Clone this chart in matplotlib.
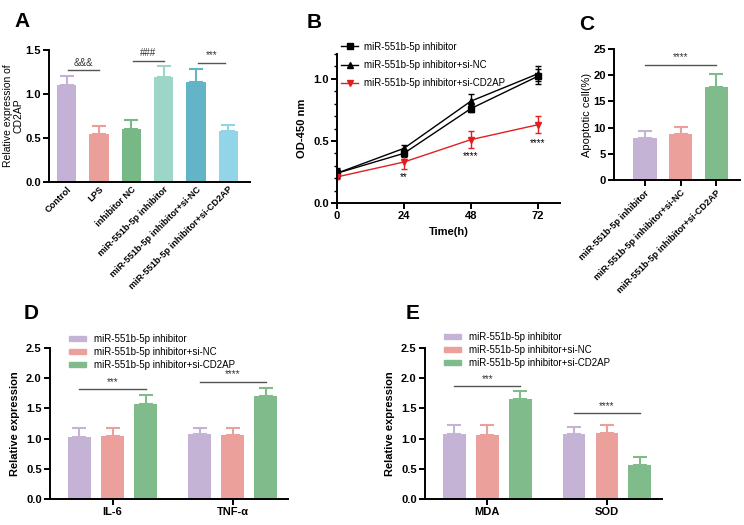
import numpy as np
import matplotlib
matplotlib.use('Agg')
import matplotlib.pyplot as plt
from matplotlib.ticker import MultipleLocator
from matplotlib.patches import Patch
from matplotlib.lines import Line2D

plt.rcParams['font.family'] = ['Liberation Sans', 'DejaVu Sans']
plt.rcParams['axes.linewidth'] = 1.4
plt.rcParams['xtick.major.width'] = 1.4
plt.rcParams['ytick.major.width'] = 1.4
plt.rcParams['xtick.major.size'] = 4
plt.rcParams['ytick.major.size'] = 4

# ---- data ----
a_groups = ['Control', 'LPS', 'inhibitor NC', 'miR-551b-5p inhibitor',
            'miR-551b-5p inhibitor+si-NC', 'miR-551b-5p inhibitor+si-CD2AP']
a_vals = [1.10, 0.55, 0.60, 1.19, 1.14, 0.58]
a_err = [0.11, 0.09, 0.10, 0.13, 0.14, 0.07]
a_colors = ['#c4b1d6', '#eb9f9b', '#76b986', '#9dd6c9', '#63b4c7', '#92d4e8']

b_time = [0, 24, 48, 72]
b_names = ['miR-551b-5p inhibitor', 'miR-551b-5p inhibitor+si-NC', 'miR-551b-5p inhibitor+si-CD2AP']
b_inh = [0.24, 0.40, 0.76, 1.02]
b_inh_err = [0.03, 0.03, 0.03, 0.06]
b_sinc = [0.24, 0.44, 0.82, 1.04]
b_sinc_err = [0.04, 0.03, 0.06, 0.06]
b_sicd = [0.21, 0.33, 0.51, 0.63]
b_sicd_err = [0.02, 0.06, 0.07, 0.07]
b_stars = ['', '**', '****', '****']
b_star_y = [0, 0.21, 0.38, 0.48]

c_groups = b_names
c_vals = [8.0, 8.7, 17.7]
c_err = [1.4, 1.5, 2.5]

grp_colors = ['#c5b3d6', '#eca09b', '#7fbb8b']
d_cats = ['IL-6', 'TNF-α']
d_vals = [[1.02, 1.07], [1.05, 1.06], [1.58, 1.70]]
d_err = [[0.16, 0.11], [0.13, 0.11], [0.14, 0.14]]
e_cats = ['MDA', 'SOD']
e_vals = [[1.08, 1.07], [1.06, 1.10], [1.65, 0.57]]
e_err = [[0.15, 0.12], [0.16, 0.12], [0.14, 0.12]]

W, H = 744, 525
fig = plt.figure(figsize=(W / 100, H / 100), dpi=100)


def px_axes(l, t, r, b):
    return fig.add_axes([l / W, 1 - b / H, (r - l) / W, (b - t) / H])


def style(ax):
    ax.spines['top'].set_visible(False)
    ax.spines['right'].set_visible(False)
    ax.tick_params(labelsize=8, pad=2)
    for lab in ax.get_yticklabels():
        lab.set_fontweight('bold')


def sig(ax, x1, x2, y, txt, dy):
    ax.plot([x1, x2], [y, y], color='#555555', lw=1)
    ax.text((x1 + x2) / 2, y + dy, txt, ha='center', va='bottom', fontsize=7, color='#333333')


def bars(ax, x, vals, errs, colors, width):
    ax.bar(x, vals, width=width, color=colors, zorder=2)
    for xi, v, e, c in zip(x, vals, errs, colors):
        ax.errorbar(xi, v, yerr=[[0], [e]], fmt='none', ecolor=c, elinewidth=1.5,
                    capsize=5, capthick=1.5, zorder=1)


# ---- A ----
ax = px_axes(49, 50, 250, 182)
xa = np.arange(len(a_vals))
bars(ax, xa, a_vals, a_err, a_colors, 0.6)
ax.set_xlim(-0.55, 5.67)
ax.set_ylim(0, 1.5)
ax.set_yticks([0, 0.5, 1.0, 1.5])
ax.set_xticks(xa)
style(ax)
ax.set_xticklabels(a_groups, rotation=45, ha='right', rotation_mode='anchor',
                   fontsize=6.6, fontweight='bold')
ax.tick_params(axis='x', length=0)
ax.set_ylabel('Relative expression of\nCD2AP', fontsize=7.5, labelpad=1, linespacing=1.1)
sig(ax, 0.05, 1.0, 1.27, '&&&', 0.03)
sig(ax, 2.05, 3.0, 1.375, '###', 0.03)
sig(ax, 4.05, 4.9, 1.35, '***', 0.03)

# ---- B ----
ax = px_axes(337, 54, 560, 203)
ax.errorbar(b_time, b_inh, yerr=b_inh_err, color='black', marker='s', ms=4, lw=1,
            capsize=2.5, elinewidth=1)
ax.errorbar(b_time, b_sinc, yerr=b_sinc_err, color='black', marker='^', ms=4, lw=1,
            capsize=2.5, elinewidth=1)
ax.errorbar(b_time, b_sicd, yerr=b_sicd_err, color='#e02020', marker='v', ms=4, lw=1,
            capsize=2.5, elinewidth=1)
for t, s, y in zip(b_time, b_stars, b_star_y):
    if s:
        ax.text(t, y, s, ha='center', va='center', fontsize=7)
ax.set_xlim(0, 80)
ax.set_ylim(0, 1.2)
ax.set_xticks(b_time)
ax.set_yticks([0, 0.5, 1.0])
ax.yaxis.set_minor_locator(MultipleLocator(0.1))
ax.tick_params(axis='y', which='minor', length=2, width=1)
style(ax)
for lab in ax.get_xticklabels():
    lab.set_fontweight('bold')
ax.set_xlabel('Time(h)', fontsize=8, fontweight='bold')
ax.set_ylabel('OD-450 nm', fontsize=8, fontweight='bold')
handles = [Line2D([], [], color='black', marker='s', ms=4, lw=1),
           Line2D([], [], color='black', marker='^', ms=4, lw=1),
           Line2D([], [], color='#e02020', marker='v', ms=4, lw=1)]
fig.legend(handles, b_names, loc='upper left', bbox_to_anchor=(336 / W, 1 - 37 / H),
           frameon=False, fontsize=7, handlelength=1.8, handletextpad=0.6,
           labelspacing=0.85, borderpad=0)

# ---- C ----
ax = px_axes(614, 49, 740, 180)
xc = np.arange(3)
bars(ax, xc, c_vals, c_err, grp_colors, 0.65)
ax.set_xlim(-0.87, 2.67)
ax.set_ylim(0, 25)
ax.set_yticks([0, 5, 10, 15, 20, 25])
ax.set_xticks(xc)
style(ax)
ax.set_xticklabels(c_groups, rotation=45, ha='right', rotation_mode='anchor',
                   fontsize=6.6, fontweight='bold')
ax.set_ylabel('Apoptotic cell(%)', fontsize=8, labelpad=1)
sig(ax, 0, 2, 21.9, '****', 0.6)


# ---- D / E ----
def grouped(l, r, cats, vals, errs, sigs, leg_x, leg_y):
    ax = px_axes(l, 348, r, 499)
    xg = np.arange(len(cats))
    off = 0.275
    for i in range(3):
        bars(ax, xg + (i - 1) * off, vals[i], errs[i], [grp_colors[i]] * len(cats), 0.19)
    ax.set_xlim(-0.52, 1.46)
    ax.set_ylim(0, 2.5)
    ax.set_yticks([0, 0.5, 1.0, 1.5, 2.0, 2.5])
    ax.set_xticks(xg)
    style(ax)
    ax.set_xticklabels(cats, fontsize=8, fontweight='bold')
    ax.set_ylabel('Relative expression', fontsize=8, fontweight='bold')
    for gi, (y, txt) in enumerate(sigs):
        sig(ax, gi - off, gi + off, y, txt, 0.04)
    hs = [Patch(color=c) for c in grp_colors]
    fig.legend(hs, b_names, loc='upper left', bbox_to_anchor=(leg_x / W, 1 - leg_y / H),
               frameon=False, fontsize=7, handlelength=1.8, handleheight=0.45,
               handletextpad=0.8, labelspacing=0.3, borderpad=0)
    return ax


grouped(50, 288, d_cats, d_vals, d_err, [(1.82, '***'), (1.94, '****')], 64, 329)
grouped(425, 662, e_cats, e_vals, e_err, [(1.87, '***'), (1.42, '****')], 439, 327)

# ---- panel letters ----
for txt, x, y in [('A', 14, 12), ('B', 307, 13), ('C', 579, 15), ('D', 24, 304), ('E', 406, 304)]:
    fig.text(x / W, 1 - y / H, txt, fontsize=15, fontweight='bold', va='top', ha='left')

fig.savefig('out.png', dpi=100)
